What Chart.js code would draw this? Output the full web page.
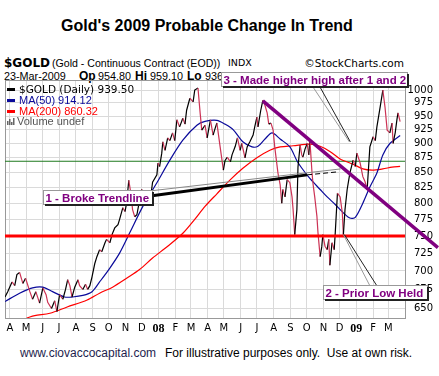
<!DOCTYPE html>
<html>
<head>
<meta charset="utf-8">
<script src="https://cdn.jsdelivr.net/npm/chart.js@4.4.1/dist/chart.umd.min.js"></script>
<style>
  html, body { margin: 0; padding: 0; background: #fff; }
  #wrap { position: relative; width: 439px; height: 376px; overflow: hidden; }
  .t { position: absolute; white-space: nowrap; line-height: 1; color: #000; }
  canvas { position: absolute; left: 0; top: 0; }
</style>
</head>
<body>
<div id="wrap">
  <div class="t" style="left:61px;top:17px;font:bold 16px 'Liberation Sans',Arial,sans-serif;">Gold's 2009 Probable Change In Trend</div>

  <div class="t" style="left:4px;top:56px;font:bold 12px 'DejaVu Sans',sans-serif;">$GOLD</div>
  <div class="t" style="left:52px;top:57px;font:10.6px 'Liberation Sans',Arial,sans-serif;">(Gold - Continuous Contract (EOD))</div>
  <div class="t" style="left:228px;top:57px;font:9.5px 'DejaVu Sans',sans-serif;">INDX</div>
  <div class="t" style="right:35px;top:57px;font:10.5px 'DejaVu Sans',sans-serif;">&copy;StockCharts.com</div>

  <div class="t" style="left:4px;top:70px;font:10.8px 'Liberation Sans',Arial,sans-serif;">23-Mar-2009</div>
  <div class="t" style="left:79px;top:69px;font:bold 12px 'Liberation Sans',Arial,sans-serif;">Op</div>
  <div class="t" style="left:98px;top:70px;font:10.8px 'Liberation Sans',Arial,sans-serif;">954.80</div>
  <div class="t" style="left:135px;top:69px;font:bold 12px 'Liberation Sans',Arial,sans-serif;">Hi</div>
  <div class="t" style="left:150px;top:70px;font:10.8px 'Liberation Sans',Arial,sans-serif;">959.10</div>
  <div class="t" style="left:187px;top:69px;font:bold 12px 'Liberation Sans',Arial,sans-serif;">Lo</div>
  <div class="t" style="left:205px;top:70px;font:10.8px 'Liberation Sans',Arial,sans-serif;">936.90</div>

  <div class="t" style="left:20px;top:346px;font:12px 'Liberation Sans',Arial,sans-serif;color:#1e1e4e;">www.ciovaccocapital.com</div>
  <div class="t" style="left:165px;top:346px;font:12px 'Liberation Sans',Arial,sans-serif;">For illustrative purposes only.&nbsp; Use at own risk.</div>

  <canvas id="chart" width="439" height="376"></canvas>
</div>

<script>
// daily close (sampled off the chart)
const priceDates = [
  '2007-03-23','2007-03-28','2007-04-05','2007-04-10','2007-04-14','2007-04-19','2007-04-25','2007-04-30',
  '2007-05-08','2007-05-13','2007-05-19','2007-05-26','2007-06-01','2007-06-07','2007-06-10','2007-06-17',
  '2007-06-23','2007-06-27','2007-07-02','2007-07-08','2007-07-13','2007-07-17','2007-07-21','2007-07-25',
  '2007-07-30','2007-08-05','2007-08-08','2007-08-14','2007-08-19','2007-08-23','2007-08-27','2007-08-31',
  '2007-09-05','2007-09-09','2007-09-14','2007-09-18','2007-09-24','2007-09-27','2007-10-03','2007-10-07',
  '2007-10-12','2007-10-18','2007-10-21','2007-10-27','2007-10-31','2007-11-03','2007-11-07','2007-11-11',
  '2007-11-14','2007-11-18','2007-11-22','2007-11-26','2007-12-01','2007-12-07','2007-12-12','2007-12-16',
  '2007-12-21','2007-12-29','2007-12-31','2008-01-03','2008-01-07','2008-01-09','2008-01-13','2008-01-18',
  '2008-01-22','2008-01-27','2008-01-31','2008-02-04','2008-02-09','2008-02-15','2008-02-19','2008-02-22',
  '2008-02-28','2008-03-05','2008-03-08','2008-03-14','2008-03-18','2008-03-21','2008-03-27','2008-03-31',
  '2008-04-06','2008-04-11','2008-04-14','2008-04-18','2008-04-24','2008-04-30','2008-05-03','2008-05-07',
  '2008-05-13','2008-05-16','2008-05-22','2008-05-26','2008-05-31','2008-06-03','2008-06-09','2008-06-13',
  '2008-06-18','2008-06-24','2008-06-27','2008-07-01','2008-07-03','2008-07-08','2008-07-12','2008-07-16',
  '2008-07-20','2008-07-23','2008-07-27','2008-07-31','2008-08-03','2008-08-09','2008-08-13','2008-08-16',
  '2008-08-18','2008-08-22','2008-08-26','2008-08-31','2008-09-04','2008-09-06','2008-09-09','2008-09-13',
  '2008-09-15','2008-09-19','2008-09-22','2008-09-24','2008-09-28','2008-10-02','2008-10-05','2008-10-07',
  '2008-10-11','2008-10-13','2008-10-16','2008-10-20','2008-10-22','2008-10-26','2008-10-29','2008-10-31',
  '2008-11-04','2008-11-08','2008-11-11','2008-11-13','2008-11-17','2008-11-21','2008-11-23','2008-11-27',
  '2008-12-02','2008-12-06','2008-12-08','2008-12-11','2008-12-15','2008-12-20','2008-12-26','2008-12-30',
  '2009-01-02','2009-01-08','2009-01-13','2009-01-17','2009-01-21','2009-01-26','2009-02-01','2009-02-05',
  '2009-02-08','2009-02-14','2009-02-19','2009-02-23','2009-02-27','2009-03-04','2009-03-08','2009-03-10',
  '2009-03-14','2009-03-17','2009-03-19','2009-03-23'
];
const priceValues = [
  665, 672, 685, 680, 695, 698, 683, 690,
  672, 662, 672, 657, 677, 668, 658, 650,
  660, 646, 668, 662, 675, 688, 680, 665,
  678, 688, 680, 675, 682, 675, 680, 692,
  710, 720, 730, 727, 740, 745, 740, 752,
  762, 767, 775, 793, 787, 800, 837, 815,
  790, 779, 782, 800, 822, 805, 813, 800,
  834, 846, 866, 860, 883, 903, 888, 910,
  905, 919, 905, 943, 930, 946, 935, 961,
  984, 977, 1000, 1004, 956, 924, 933, 910,
  943, 915, 925, 937, 894, 854, 870, 876,
  868, 880, 895, 910, 888, 900, 875, 894,
  903, 915, 930, 948, 930, 960, 980, 970,
  956, 935, 937, 924, 894, 849, 830, 800,
  822, 810, 838, 833, 810, 790, 752, 790,
  859, 897, 880, 876, 890, 900, 880, 906,
  849, 830, 810, 780, 755, 720, 734, 752,
  735, 730, 745, 708, 740, 730, 755, 816,
  810, 785, 752, 790, 822, 849, 871, 860,
  883, 866, 843, 835, 822, 894, 912, 905,
  930, 967, 1000, 967, 924, 919, 937, 900,
  920, 943, 956, 939.5
];

const ma50Dates = [
  '2007-03-23','2007-04-19','2007-05-13','2007-06-01','2007-06-19','2007-07-11','2007-07-26','2007-08-14',
  '2007-08-31','2007-09-14','2007-10-03','2007-10-21','2007-11-09','2007-12-03','2007-12-29','2008-01-22',
  '2008-02-15','2008-03-12','2008-03-27','2008-04-18','2008-05-03','2008-05-18','2008-06-05','2008-06-22',
  '2008-07-03','2008-07-16','2008-07-29','2008-08-13','2008-08-31','2008-09-13','2008-09-24','2008-10-07',
  '2008-10-26','2008-11-08','2008-11-23','2008-12-08','2008-12-20','2008-12-30','2009-01-13','2009-01-26',
  '2009-02-08','2009-02-19','2009-03-04','2009-03-23'
];
const ma50Values = [
  659, 670, 677, 678, 672, 665, 665, 667,
  672, 685, 704, 725, 755, 795, 833, 871,
  906, 933, 940, 942, 935, 925, 903, 894,
  895, 908, 919, 908, 894, 870, 855, 840,
  822, 810, 798, 785, 777, 778, 800, 826,
  849, 880, 900, 914.12
];

const ma200Dates = [
  '2007-05-02','2007-05-17','2007-06-14','2007-07-16','2007-08-22','2007-09-14','2007-10-08','2007-11-03',
  '2007-11-27','2007-12-21','2008-01-18','2008-02-15','2008-03-08','2008-03-27','2008-04-18','2008-05-13',
  '2008-06-05','2008-07-01','2008-07-25','2008-08-13','2008-09-06','2008-10-07','2008-10-26','2008-11-13',
  '2008-12-02','2008-12-26','2009-01-13','2009-01-30','2009-02-19','2009-03-08','2009-03-23'
];
const ma200Values = [
  638, 641, 644, 652, 661, 670, 678, 690,
  702, 718, 735, 754, 775, 795, 815, 838,
  857, 875, 888, 894, 896, 899, 895, 886,
  873, 864, 856, 854, 856, 859, 860.32
];

// drawn trend lines and levels
const supportLevel = 750;
const resistLevel = 869;
const upTrendDates = ['2007-12-20', '2008-10-02'];
const upTrendValues = [812, 846];
const upTrendExtDates = ['2008-10-02', '2008-11-27'];
const upTrendExtValues = [846, 851];
const upTrendGreyDates = ['2007-12-20', '2008-12-03'];
const upTrendGreyValues = [820, 856];
const downTrendDates = ['2008-07-12', '2009-06-01'];
const downTrendValues = [979, 733];

// axes
const xStart = '2007-03-23';
const xEnd = '2009-04-01';
const monthLabels = ['A','M','J','J','A','S','O','N','D','08','F','M','A','M','J','J','A','S','O','N','D','09','F','M'];
const yTicks = [650, 675, 700, 725, 750, 775, 800, 825, 850, 875, 900, 925, 950, 975, 1000];

const base = Date.parse('2007-04-01');
function dayOf(s) {
    return (Date.parse(s) - base) / 86400000;
}
function pts(dates, values) {
    return dates.map((d, i) => ({ x: dayOf(d), y: values[i] }));
}
const monthTicks = monthLabels.map((_, i) => (Date.UTC(2007, 3 + i, 1) - base) / 86400000);
const xMin = dayOf(xStart);
const xMax = dayOf(xEnd);

const downColor = '#cc3355';

const overlay = {
    id: 'overlay',
    beforeDatasetsDraw(chart) {
        const { ctx, chartArea: a } = chart;
        ctx.save();
        ctx.strokeStyle = '#999';
        ctx.lineWidth = 1;
        ctx.strokeRect(a.left + 0.5, a.top + 0.5, a.right - a.left, a.bottom - a.top);
        ctx.restore();
    },
    afterDatasetsDraw(chart) {
        const { ctx, chartArea: a, scales } = chart;
        const X = v => scales.x.getPixelForValue(v);
        const Y = v => scales.y.getPixelForValue(v);
        ctx.save();

        // legend
        const lx = a.left + 2;
        const rows = [
            { c: '#000', t: '$GOLD (Daily) 939.50', f: '10.5px "DejaVu Sans"', y: a.top + 13 },
            { c: '#0a0a9a', t: 'MA(50) 914.12', f: '11px "Liberation Sans"', y: a.top + 24 },
            { c: '#ff0000', t: 'MA(200) 860.32', f: '11px "Liberation Sans"', y: a.top + 35 }
        ];
        rows.forEach(r => {
            ctx.fillStyle = r.c;
            ctx.fillRect(lx, r.y - 5, 8, 3);
            ctx.font = r.f;
            ctx.fillText(r.t, lx + 12, r.y);
        });
        ctx.fillStyle = '#666';
        [[0, 4], [2, 6], [4, 3], [6, 7]].forEach(b => ctx.fillRect(lx + b[0], a.top + 45 - b[1], 1.5, b[1]));
        ctx.font = '11px "Liberation Sans"';
        ctx.fillStyle = '#555';
        ctx.fillText('Volume undef', lx + 10, a.top + 45);

        // callout pointers
        const tip3 = { x: X(dayOf('2008-12-19')), y: Y(903) };
        const tip2 = { x: X(dayOf('2008-12-08')), y: Y(752) };
        function pointer(tip, x0, y0, x1, y1) {
            ctx.lineWidth = 1;
            ctx.strokeStyle = '#999';
            ctx.beginPath(); ctx.moveTo(x0, y0); ctx.lineTo(tip.x, tip.y); ctx.stroke();
            ctx.strokeStyle = '#222';
            ctx.beginPath(); ctx.moveTo(x1, y1); ctx.lineTo(tip.x + 1, tip.y); ctx.stroke();
        }
        pointer(tip3, 313, 87, 320, 87);
        pointer(tip2, 370, 286, 377, 286);

        // label boxes
        function box(x, y, w, h, text) {
            ctx.fillStyle = '#fff';
            ctx.fillRect(x, y, w, h);
            ctx.strokeStyle = '#999';
            ctx.lineWidth = 1;
            ctx.strokeRect(x + 0.5, y + 0.5, w - 1, h - 1);
            ctx.strokeStyle = '#222';
            ctx.lineWidth = 2;
            ctx.beginPath();
            ctx.moveTo(x + 2, y + h);
            ctx.lineTo(x + w, y + h);
            ctx.lineTo(x + w, y + 2);
            ctx.stroke();
            ctx.fillStyle = '#800080';
            ctx.font = 'bold 11.5px "Liberation Sans"';
            ctx.fillText(text, x + 2.5, y + h - 3.5);
        }
        box(43, 190, 110, 15, '1 - Broke Trendline');
        box(221, 72, 187, 15, '3 - Made higher high after 1 and 2');
        box(323, 285, 105, 15, '2 - Prior Low Held');
        ctx.restore();
    }
};

const ctx = document.getElementById('chart');

new Chart(ctx, {
    type: 'line',
    data: {
        datasets: [
            {
                data: pts(downTrendDates, downTrendValues),
                borderColor: '#800080',
                borderWidth: 3.5,
                clip: false
            },
            {
                data: pts(upTrendDates, upTrendValues),
                borderColor: '#000',
                borderWidth: 3
            },
            {
                data: pts(upTrendExtDates, upTrendExtValues),
                borderColor: '#000',
                borderWidth: 1,
                borderDash: [5, 3]
            },
            {
                data: pts(upTrendGreyDates, upTrendGreyValues),
                borderColor: '#888',
                borderWidth: 1
            },
            {
                data: [{ x: xMin, y: supportLevel }, { x: xMax, y: supportLevel }],
                borderColor: '#ff0000',
                borderWidth: 3
            },
            {
                data: pts(priceDates, priceValues),
                borderColor: '#000',
                borderWidth: 1.2,
                segment: {
                    borderColor: function(c) {
                        if (c.p1.parsed.y < c.p0.parsed.y) {
                            return downColor;
                        } else {
                            return '#000';
                        }
                    }
                }
            },
            {
                data: pts(ma50Dates, ma50Values),
                borderColor: '#0a0a9a',
                borderWidth: 1.2,
                tension: 0.3
            },
            {
                data: pts(ma200Dates, ma200Values),
                borderColor: '#ff0000',
                borderWidth: 1.2,
                tension: 0.3
            },
            {
                data: [{ x: xMin, y: resistLevel }, { x: xMax, y: resistLevel }],
                borderColor: '#1e7a1e',
                borderWidth: 1
            }
        ]
    },
    options: {
        responsive: false,
        animation: false,
        events: [],
        elements: {
            point: { radius: 0 }
        },
        layout: {
            padding: { left: 5, top: 80, right: 6, bottom: 0 }
        },
        plugins: {
            legend: { display: false },
            tooltip: { enabled: false },
            title: { display: false }
        },
        scales: {
            x: {
                type: 'linear',
                min: xMin,
                max: xMax,
                afterFit: function(scale) { scale.height = 58; },
                afterBuildTicks: function(scale) {
                    scale.ticks = monthTicks.map(v => ({ value: v }));
                },
                grid: {
                    color: '#dadada',
                    drawTicks: false
                },
                border: { display: false },
                ticks: {
                    autoSkip: false,
                    maxRotation: 0,
                    padding: 4,
                    color: '#000',
                    font: function(context) {
                        const lbl = monthLabels[context.index];
                        if (lbl === '08' || lbl === '09') {
                            return { family: 'Liberation Serif', size: 12, weight: 'bold' };
                        }
                        return { family: 'DejaVu Sans', size: 10 };
                    },
                    callback: function(value, index) {
                        return monthLabels[index];
                    }
                }
            },
            y: {
                type: 'logarithmic',
                position: 'right',
                min: 638,
                max: 1020,
                afterFit: function(scale) { scale.width = 28; },
                afterBuildTicks: function(scale) {
                    scale.ticks = yTicks.map(v => ({ value: v }));
                },
                grid: {
                    color: '#dadada',
                    drawTicks: false
                },
                border: { display: false },
                ticks: {
                    crossAlign: 'far',
                    padding: 4,
                    color: '#000',
                    font: { family: 'DejaVu Sans', size: 10 },
                    callback: function(value) {
                        return String(value);
                    }
                }
            }
        }
    },
    plugins: [overlay]
});
</script>
</body>
</html>
